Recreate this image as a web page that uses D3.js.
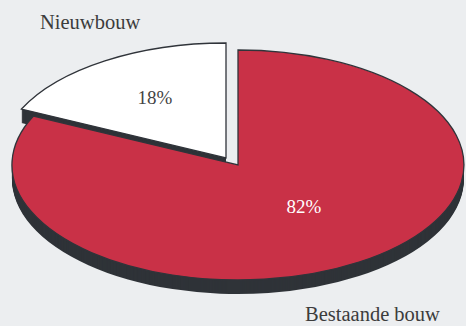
<!DOCTYPE html>
<html>
<head>
<meta charset="utf-8">
<script src="https://cdn.jsdelivr.net/npm/d3@7"></script>
<style>
  html, body { margin: 0; padding: 0; background: #eceef0; }
  svg { display: block; }
</style>
</head>
<body>
<svg id="chart" width="466" height="326"></svg>
<script>
// Share of the market: new construction vs. existing buildings
const categories = ["Nieuwbouw", "Bestaande bouw"];
const shares = [18, 82];
const valueLabels = ["18%", "82%"];

const W = 466, H = 326;
const cx = 238, cy = 165;      // centre of the pie's top face
const rx = 226, ry = 115;      // ellipse radii (tilted disc)
const depth = 14;              // thickness of the disc
const explode = [[-12, -7], [0, 0]];

const topColor = ["#ffffff", "#c93147"];
const sideColor = "#2f3338";
const edgeColor = "#30343a";
const labelColor = ["#444444", "#ffffff"];

const svg = d3.select("#chart");
svg.append("rect").attr("width", W).attr("height", H).attr("fill", "#eceef0");

const pie = d3.pie()
  .sort(null)
  .startAngle(-2 * Math.PI * shares[0] / 100)
  .endAngle(2 * Math.PI * (1 - shares[0] / 100));
const arcs = pie(shares);

// unit-circle arc, stretched into an ellipse by the group transform
const arc = d3.arc().innerRadius(0).outerRadius(1);

arcs.forEach((a, i) => {
  const [ox, oy] = explode[i];
  const g = svg.append("g");

  // side wall: the slice stacked downwards
  const side = g.append("g");
  for (let d = depth; d >= 1; d--) {
    side.append("path")
      .attr("transform", `translate(${cx + ox},${cy + oy + d}) scale(${rx},${ry})`)
      .attr("d", arc(a))
      .attr("fill", sideColor);
  }

  // top face
  g.append("path")
    .attr("transform", `translate(${cx + ox},${cy + oy}) scale(${rx},${ry})`)
    .attr("d", arc(a))
    .attr("fill", topColor[i])
    .attr("stroke", edgeColor)
    .attr("stroke-width", 1.3)
    .attr("stroke-linejoin", "miter")
    .attr("vector-effect", "non-scaling-stroke");
});

// percentage labels inside the slices
const pctPos = [[155, 104], [304, 213]];
valueLabels.forEach((t, i) => {
  svg.append("text")
    .attr("x", pctPos[i][0]).attr("y", pctPos[i][1])
    .attr("text-anchor", "middle")
    .attr("font-family", "'Liberation Serif', 'DejaVu Serif', serif")
    .attr("font-size", 19)
    .attr("fill", labelColor[i])
    .text(t);
});

// category names
const namePos = [[40, 29], [305, 321]];
categories.forEach((t, i) => {
  svg.append("text")
    .attr("x", namePos[i][0]).attr("y", namePos[i][1])
    .attr("font-family", "'Liberation Serif', 'DejaVu Serif', serif")
    .attr("font-size", 20.5)
    .attr("fill", "#3c3c3c")
    .text(t);
});
</script>
</body>
</html>
